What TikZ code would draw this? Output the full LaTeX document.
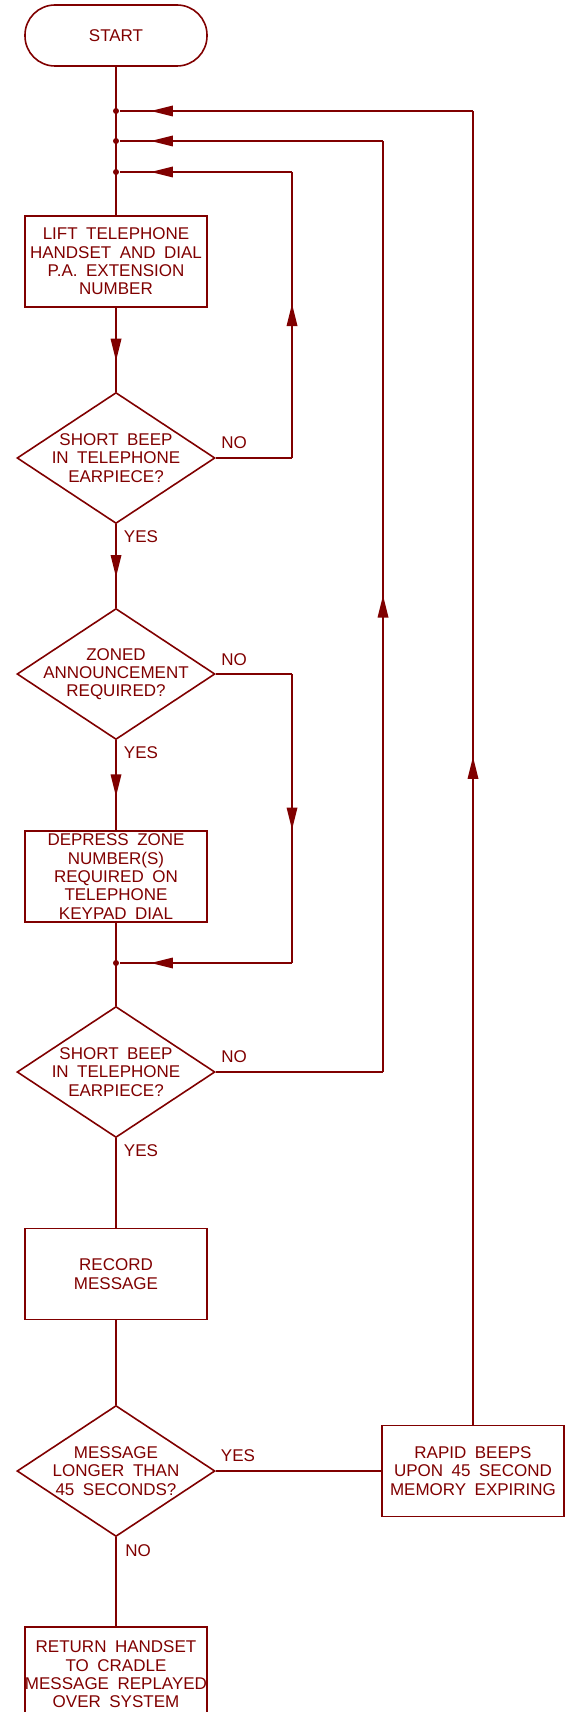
\documentclass[tikz,border=0pt]{standalone}
\usepackage{fontspec}
\setmainfont{Liberation Sans}
\usetikzlibrary{shapes.geometric,decorations.markings}
\definecolor{chartred}{RGB}{128,0,0}
\tikzset{
	box/.style={draw,minimum width=182pt,minimum height=91pt,align=center,inner sep=0pt},
	ask/.style={draw,diamond,minimum width=198pt,minimum height=131pt,inner sep=0pt},
	asktext/.style={label={[align=center]center:#1}},
	junction/.style={circle,fill,inner sep=0pt,minimum size=6pt},
	midarrow/.style={postaction={decorate,decoration={markings,mark=at position 0.5 with {\fill (11pt,0pt) -- (-11pt,5.5pt) -- (-11pt,-5.5pt) -- cycle;}}}},
	joinarrow/.style={postaction={decorate,decoration={markings,mark=at position -42pt with {\fill (11pt,0pt) -- (-11pt,5.5pt) -- (-11pt,-5.5pt) -- cycle;}}}},
}
\begin{document}
\begin{tikzpicture}[x=1pt,y=-1pt,color=chartred,line width=1.6pt,font={\fontsize{17}{18.3}\selectfont\spaceskip=.5em plus .1em\relax}]
	\useasboundingbox (0,0) rectangle (576,1712);

	\node[draw,rounded corners=30pt,minimum width=182pt,minimum height=61pt] (start) at (116,35.5) {START};
	\node[junction] (j1) at (116,111) {};
	\node[junction] (j2) at (116,141) {};
	\node[junction] (j3) at (116,172) {};
	\node[box] (lift) at (116,261.5) {LIFT TELEPHONE\\HANDSET AND DIAL\\P.A. EXTENSION\\NUMBER};
	\node[ask,asktext={SHORT BEEP\\IN TELEPHONE\\EARPIECE?}] (beep1) at (116,458) {};
	\node[ask,asktext={ZONED\\ANNOUNCEMENT\\REQUIRED?}] (zoned) at (116,674) {};
	\node[box] (zone) at (116,876.5) {DEPRESS ZONE\\NUMBER(S)\\REQUIRED ON\\TELEPHONE\\KEYPAD DIAL};
	\node[junction] (j4) at (116,963) {};
	\node[ask,asktext={SHORT BEEP\\IN TELEPHONE\\EARPIECE?}] (beep2) at (116,1072) {};
	\node[box] (record) at (116,1274) {RECORD\\MESSAGE};
	\node[ask,asktext={MESSAGE\\LONGER THAN\\45 SECONDS?}] (long) at (116,1471) {};
	\node[box] (rapid) at (473,1471) {RAPID BEEPS\\UPON 45 SECOND\\MEMORY EXPIRING};
	\node[box,minimum height=95pt] (return) at (116,1674.5) {RETURN HANDSET\\TO CRADLE\\MESSAGE REPLAYED\\OVER SYSTEM};

	\coordinate (loop1) at (292,458);
	\coordinate (loop1top) at (292,172);
	\coordinate (skip) at (292,674);
	\coordinate (skipend) at (292,963);
	\coordinate (loop2) at (383,1072);
	\coordinate (loop2top) at (383,141);
	\coordinate (loop3top) at (rapid.north |- j1);

	\draw (start) -- (lift);
	\draw[midarrow] (lift) -- (beep1);
	\draw (beep1.east) -- (loop1);
	\draw[midarrow] (loop1) -- (loop1top);
	\draw[joinarrow] (loop1top) -- (j3);
	\draw[midarrow] (beep1) -- (zoned);
	\draw (zoned.east) -- (skip);
	\draw[midarrow] (skip) -- (skipend);
	\draw[joinarrow] (skipend) -- (j4);
	\draw[midarrow] (zoned) -- (zone);
	\draw (zone) -- (beep2);
	\draw (beep2.east) -- (loop2);
	\draw[midarrow] (loop2) -- (loop2top);
	\draw[joinarrow] (loop2top) -- (j2);
	\draw (beep2) -- (record);
	\draw (record) -- (long);
	\draw (long.east) -- (rapid.west);
	\draw[midarrow] (rapid.north) -- (loop3top);
	\draw[joinarrow] (loop3top) -- (j1);
	\draw (long) -- (return);

	\node (no1) at (234,443) {NO};
	\node (yes1) at (141,537) {YES};
	\node (no2) at (234,660) {NO};
	\node (yes2) at (141,753) {YES};
	\node (no3) at (234,1057) {NO};
	\node (yes3) at (141,1151) {YES};
	\node (yes4) at (238,1456) {YES};
	\node (no4) at (138,1551) {NO};
\end{tikzpicture}
\end{document}
